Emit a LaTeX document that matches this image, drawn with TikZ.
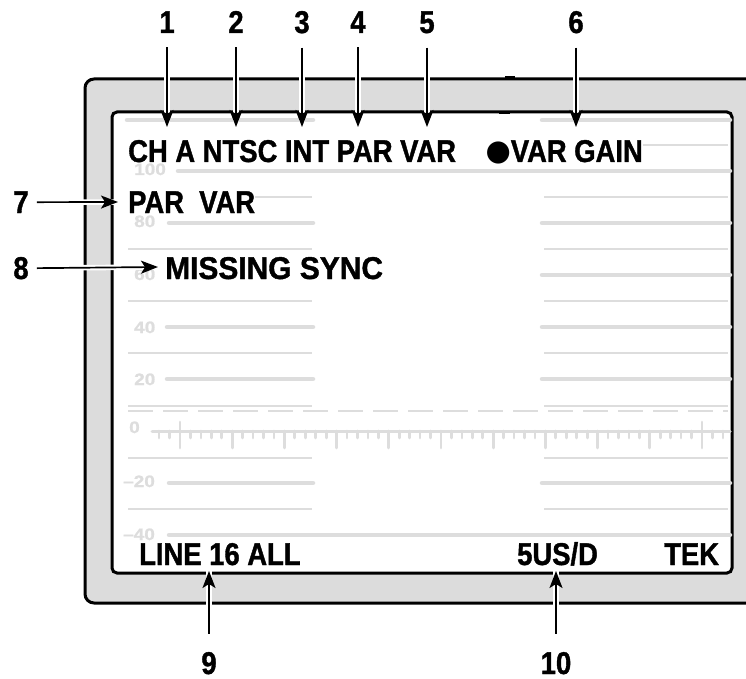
\documentclass[tikz,border=0pt]{standalone}
\usepackage{fontspec}
\setmainfont{Liberation Sans}[FakeStretch=0.87, FakeBold=1.2]
\newfontfamily\gratfont{Liberation Sans}[FakeStretch=1.15, FakeBold=1]
\newfontfamily\symfont{DejaVu Sans}
\usetikzlibrary{arrows.meta}
\definecolor{bezel}{HTML}{DCDCDC}
\definecolor{grat}{HTML}{DDDDDD}

\begin{document}
\begin{tikzpicture}[x=1pt, y=-1pt,
    readout/.style={anchor=base west, fill=white, inner sep=0pt, font=\fontsize{31.5}{30}\selectfont\bfseries},
    num/.style={anchor=base, inner sep=0pt, font=\fontsize{31.5}{30}\selectfont\bfseries},
    gratlabel/.style={anchor=base west, inner sep=0pt, text=grat, font=\gratfont\fontsize{16.5}{16.5}\selectfont\bfseries},
    majorline/.style={draw=grat, line width=4.5pt, line cap=round},
    minorline/.style={draw=grat, line width=1.8pt},
    tickline/.style={draw=grat, line width=2.7pt, line cap=round},
    callout/.style={-{Stealth[length=17pt, width=13pt, inset=4pt]}, line width=1.7pt, preaction={draw=white, line width=5.5pt, -}}
]
\useasboundingbox (0,0) rectangle (746,679);
\clip (0,0) rectangle (746,679);

% Bezel
\draw[fill=bezel, line width=3pt, rounded corners=9pt] (760,79) -- (85,79) -- (85,603) -- (760,603);
\fill (505,76.5) rectangle (515,79);

% Screen
\draw[fill=white, line width=3pt, rounded corners=5pt] (112,112) rectangle (732,573);
\fill (499,112) rectangle (510,114.5);

% Graticule
\foreach \y in {145,197,249,301,353,406,458,509} {
  \draw[minorline] (128,\y) -- (312,\y);
  \draw[minorline] (544,\y) -- (728,\y);
}
\foreach \y/\x in {120/127,223/169,275/169,327/167,379/167,483/169} {
  \draw[majorline] (\x,\y) -- (313,\y);
  \draw[majorline] (542,\y) -- (730,\y);
}
\draw[majorline] (178,171) -- (730,171);
\draw[majorline] (169,535) -- (730,535);
\draw[grat, line width=1.8pt, dash pattern=on 25pt off 10pt] (128,411) -- (728,411);

% Baseline with ticks
\draw[majorline, line width=3pt] (152,431) -- (730,431);
\draw[tickline] (180,422) -- (180,448);
\draw[tickline] (702,422) -- (702,448);
\foreach \k in {1,...,9}
  \draw[tickline] ({180+52.2*\k},431) -- ++(0,17);
\foreach \j in {-2,...,52} {
  \pgfmathtruncatemacro\r{mod(\j+10,5)}
  \ifnum\r>0 \draw[tickline] ({180+10.44*\j},431) -- ++(0,7); \fi
}

% Scale labels
\node[gratlabel] (l100) at (134,175) {100};
\node[gratlabel] (l80) at (134,227) {80};
\node[gratlabel] (l60) at (134,280) {60};
\node[gratlabel] (l40) at (134,333) {40};
\node[gratlabel] (l20) at (134,385) {20};
\node[gratlabel] (l0) at (129,433) {0};
\node[gratlabel] (lm20) at (123,487) {–20};
\node[gratlabel] (lm40) at (123,540) {–40};

% Readouts
\node[readout] (mode) at (128,162) {CH A NTSC INT PAR VAR};
\node[readout, anchor=base east] (gain) at (643,162) {\raisebox{1.5pt}{\symfont\fontsize{29}{29}\selectfont ●}VAR GAIN};
\node[readout] (var) at (128,213) {PAR\ \ VAR};
\node[readout] (sync) at (165,279) {\addfontfeatures{FakeStretch=0.95}MISSING SYNC};
\node[readout] (line) at (139,565) {LINE 16 ALL};
\node[readout] (sweep) at (517,565) {5US/D};
\node[readout] (tek) at (664,565) {TEK};

% Callout numbers
\node[num] (n1) at (167,33) {1};
\node[num] (n2) at (236,33) {2};
\node[num] (n3) at (302,33) {3};
\node[num] (n4) at (358,33) {4};
\node[num] (n5) at (427,33) {5};
\node[num] (n6) at (576,33) {6};
\node[num] (n7) at (21,213) {7};
\node[num] (n8) at (21,279) {8};
\node[num] (n9) at (209,674) {9};
\node[num] (n10) at (556,674) {10};

% Arrow tips
\coordinate (t1) at (167,127);
\coordinate (t2) at (236,127);
\coordinate (t3) at (302,127);
\coordinate (t4) at (358,127);
\coordinate (t5) at (427,127);
\coordinate (t6) at (576,127);
\coordinate (t7) at (118,202);
\coordinate (t8) at (158,267);
\coordinate (t9) at (209,571);
\coordinate (t10) at (556,571);

% Callout arrows
\draw[callout] ([yshift=-14pt]n1.south) -- (t1);
\draw[callout] ([yshift=-14pt]n2.south) -- (t2);
\draw[callout] ([yshift=-14pt]n3.south) -- (t3);
\draw[callout] ([yshift=-14pt]n4.south) -- (t4);
\draw[callout] ([yshift=-14pt]n5.south) -- (t5);
\draw[callout] ([yshift=-14pt]n6.south) -- (t6);
\draw[callout] ([xshift=8pt]n7.east) -- (t7);
\draw[callout] ([xshift=8pt]n8.east) -- (t8);
\draw[callout] ([yshift=18pt]n9.north) -- (t9);
\draw[callout] ([yshift=18pt]n10.north) -- (t10);

\end{tikzpicture}
\end{document}
